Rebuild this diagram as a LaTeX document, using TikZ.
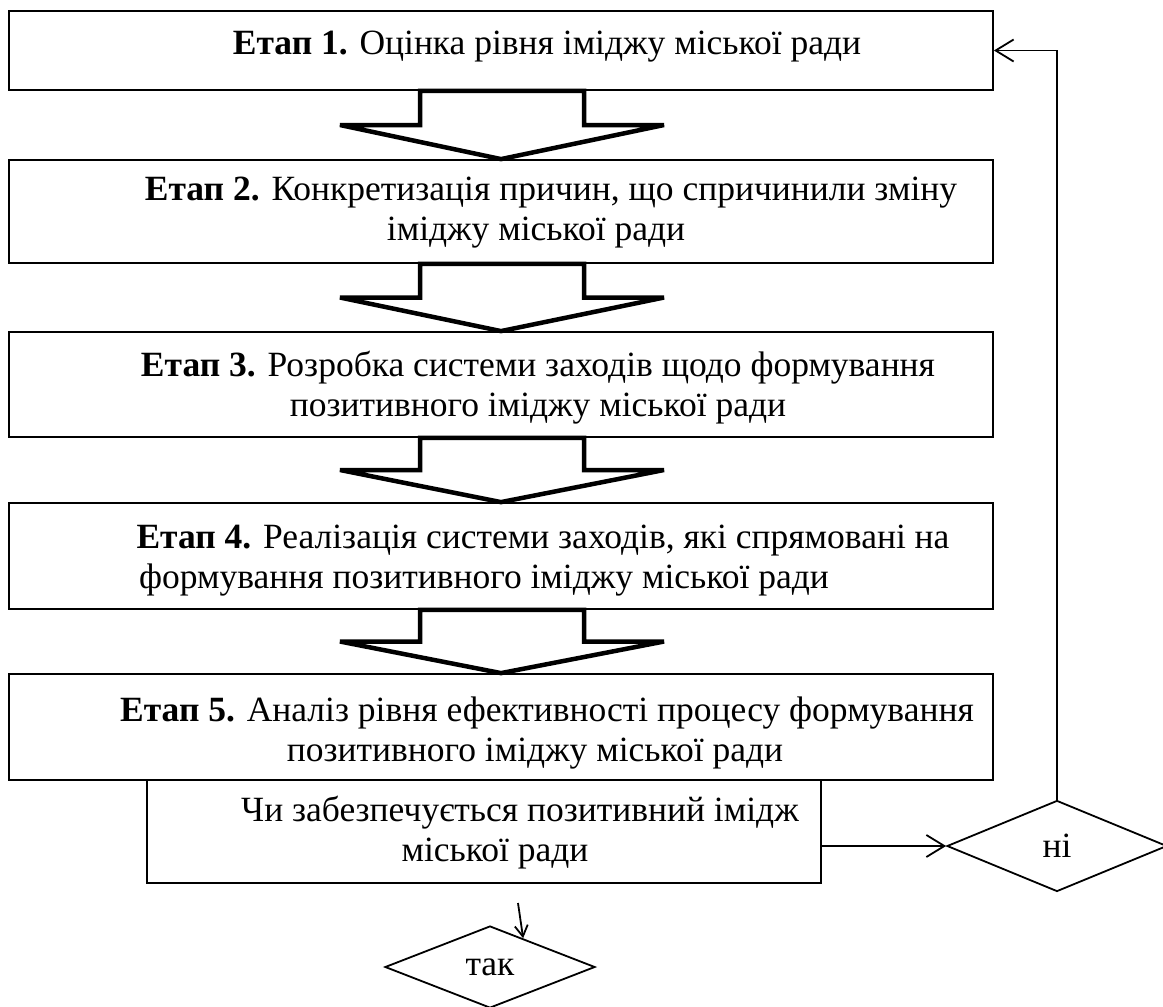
\documentclass[tikz,border=0pt]{standalone}
\usepackage{fontspec}
\setmainfont{Liberation Serif}
\usetikzlibrary{arrows.meta}
\usetikzlibrary{calc}
\usetikzlibrary{shapes.geometric}

\begin{document}
\begin{tikzpicture}[x=1pt,y=-1pt,>/.tip={Straight Barb[length=18pt,width=22pt]},
	font=\fontsize{35.5}{40}\selectfont,
	stage/.style={draw,line width=1.8pt,minimum width=984pt,inner sep=0pt},
	stagetext/.style={align=center,inner sep=0pt},
	bigarrow/.style={draw,fill=white,line width=4.5pt,line join=miter,miter limit=3},
	choice/.style={draw,shape=diamond,line width=1.8pt,inner sep=0pt},
	link/.style={line width=1.8pt}]
	\useasboundingbox (0,0) rectangle (1163,1007);

	\draw (501,50.5) node (s1) [stage,minimum height=79pt] {};
	\node [stagetext] (t1) at (547,47) {\textbf{Етап 1.} Оцінка рівня іміджу міської ради};

	\draw (501,211.5) node (s2) [stage,minimum height=103pt] {};
	\node [stagetext] (t2) at (536,213) {\hspace*{30pt}\textbf{Етап 2.} Конкретизація причин, що спричинили зміну\\іміджу міської ради};

	\draw (501,384.5) node (s3) [stage,minimum height=105pt] {};
	\node [stagetext] (t3) at (538,388) {\textbf{Етап 3.} Розробка системи заходів щодо формування\\позитивного іміджу міської ради};

	\draw (501,556) node (s4) [stage,minimum height=106pt] {};
	\node [stagetext] (t4) at (484,561) {\hspace*{118pt}\textbf{Етап 4.} Реалізація системи заходів, які спрямовані на\\формування позитивного іміджу міської ради};

	\draw (501,727) node (s5) [stage,minimum height=106pt] {};
	\node [stagetext] (t5) at (535,733) {\hspace*{24pt}\textbf{Етап 5.} Аналіз рівня ефективності процесу формування\\позитивного іміджу міської ради};

	\draw (484,831.5) node (s6) [stage,minimum width=674pt,minimum height=103pt] {};
	\node [stagetext] (t6) at (495,833) {\hspace*{50pt}Чи забезпечується позитивний імідж\\міської ради};

	\draw (1057,846) node (no) [choice,minimum width=220pt,minimum height=91pt] {ні};
	\draw (490,967) node (yes) [choice,minimum width=210pt,minimum height=82pt] {так};

	% block arrows between the stages
	\foreach \a/\b in {s1/s2,s2/s3,s3/s4,s4/s5} {
		\coordinate (m) at ($(\a.south)!0.5!(\b.north)$);
		\draw[bigarrow] ([xshift=-81pt]\a.south) -- ([xshift=-81pt]m) -- ([xshift=-161pt]m) -- (\b.north)
			-- ([xshift=163pt]m) -- ([xshift=83pt]m) -- ([xshift=83pt]\a.south) -- cycle;
	}

	\draw[link,->] (no.west -| s6.east) -- (no.west);
	\draw[link,->] (no.north) |- (s1.east);
	\coordinate (yesin) at (518,903);
	\draw[link,-{Straight Barb[length=11pt,width=13pt]}] (yesin) -- (yes.41);
\end{tikzpicture}
\end{document}
